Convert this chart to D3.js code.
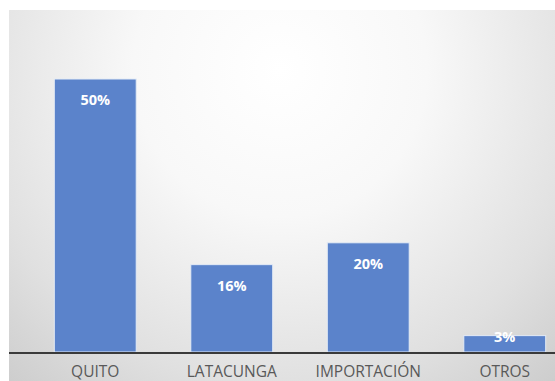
<!DOCTYPE html>
<html>
<head>
<meta charset="utf-8">
<script src="https://cdn.jsdelivr.net/npm/d3@7"></script>
<style>
  html, body { margin: 0; padding: 0; background: #ffffff; }
  svg { display: block; }
</style>
</head>
<body>
<script>
// Share of supply by origin
const categories = ["QUITO", "LATACUNGA", "IMPORTACIÓN", "OTROS"];
const values = [50, 16, 20, 3];
const valueLabels = ["50%", "16%", "20%", "3%"];

const W = 555, H = 381;
const svg = d3.select("body").append("svg").attr("width", W).attr("height", H);

// Soft radial backdrop behind the plot
const defs = svg.append("defs");
const grad = defs.append("radialGradient")
  .attr("id", "bg").attr("gradientUnits", "userSpaceOnUse")
  .attr("cx", 280).attr("cy", 70).attr("r", 420);
grad.append("stop").attr("offset", "0%").attr("stop-color", "#ffffff");
grad.append("stop").attr("offset", "35%").attr("stop-color", "#f8f8f8");
grad.append("stop").attr("offset", "75%").attr("stop-color", "#e0e0e0");
grad.append("stop").attr("offset", "100%").attr("stop-color", "#cccccc");

svg.append("rect").attr("x", 9).attr("y", 10).attr("width", W - 9).attr("height", H - 10)
  .attr("fill", "url(#bg)");

const baseY = 352;
const x = d3.scaleBand().domain(categories).range([27, 573]).paddingInner(0.4).paddingOuter(0.2);
const y = d3.scaleLinear().domain([0, 50]).range([baseY, 79]);

const g = svg.append("g");

g.selectAll("rect.bar").data(categories).join("rect")
  .attr("class", "bar")
  .attr("x", d => x(d))
  .attr("y", (d, i) => y(values[i]))
  .attr("width", x.bandwidth())
  .attr("height", (d, i) => baseY - y(values[i]))
  .attr("fill", "#5b83cb")
  .attr("stroke", "#e4ebf6")
  .attr("stroke-width", 1);

// Baseline
svg.append("line").attr("x1", 9).attr("x2", W).attr("y1", baseY + 1).attr("y2", baseY + 1)
  .attr("stroke", "#3a3a3a").attr("stroke-width", 2);

// Value labels inside the bars
g.selectAll("text.val").data(categories).join("text")
  .attr("class", "val")
  .attr("x", d => x(d) + x.bandwidth() / 2)
  .attr("y", (d, i) => Math.min(y(values[i]) + 26, baseY - 10))
  .attr("text-anchor", "middle")
  .attr("font-family", "'Open Sans', 'Liberation Sans', sans-serif")
  .attr("font-weight", "bold")
  .attr("font-size", 14.5)
  .attr("fill", "#ffffff")
  .text((d, i) => valueLabels[i]);

// Category axis labels
const axis = d3.axisBottom(x).tickSize(0).tickPadding(0);
const ax = svg.append("g").attr("transform", `translate(0,${baseY})`).call(axis);
ax.select(".domain").remove();
ax.selectAll("text")
  .attr("y", 25)
  .attr("dy", 0)
  .attr("font-family", "'Open Sans', 'Liberation Sans', sans-serif")
  .attr("font-size", 15.5)
  .attr("fill", "#595959");
</script>
</body>
</html>
